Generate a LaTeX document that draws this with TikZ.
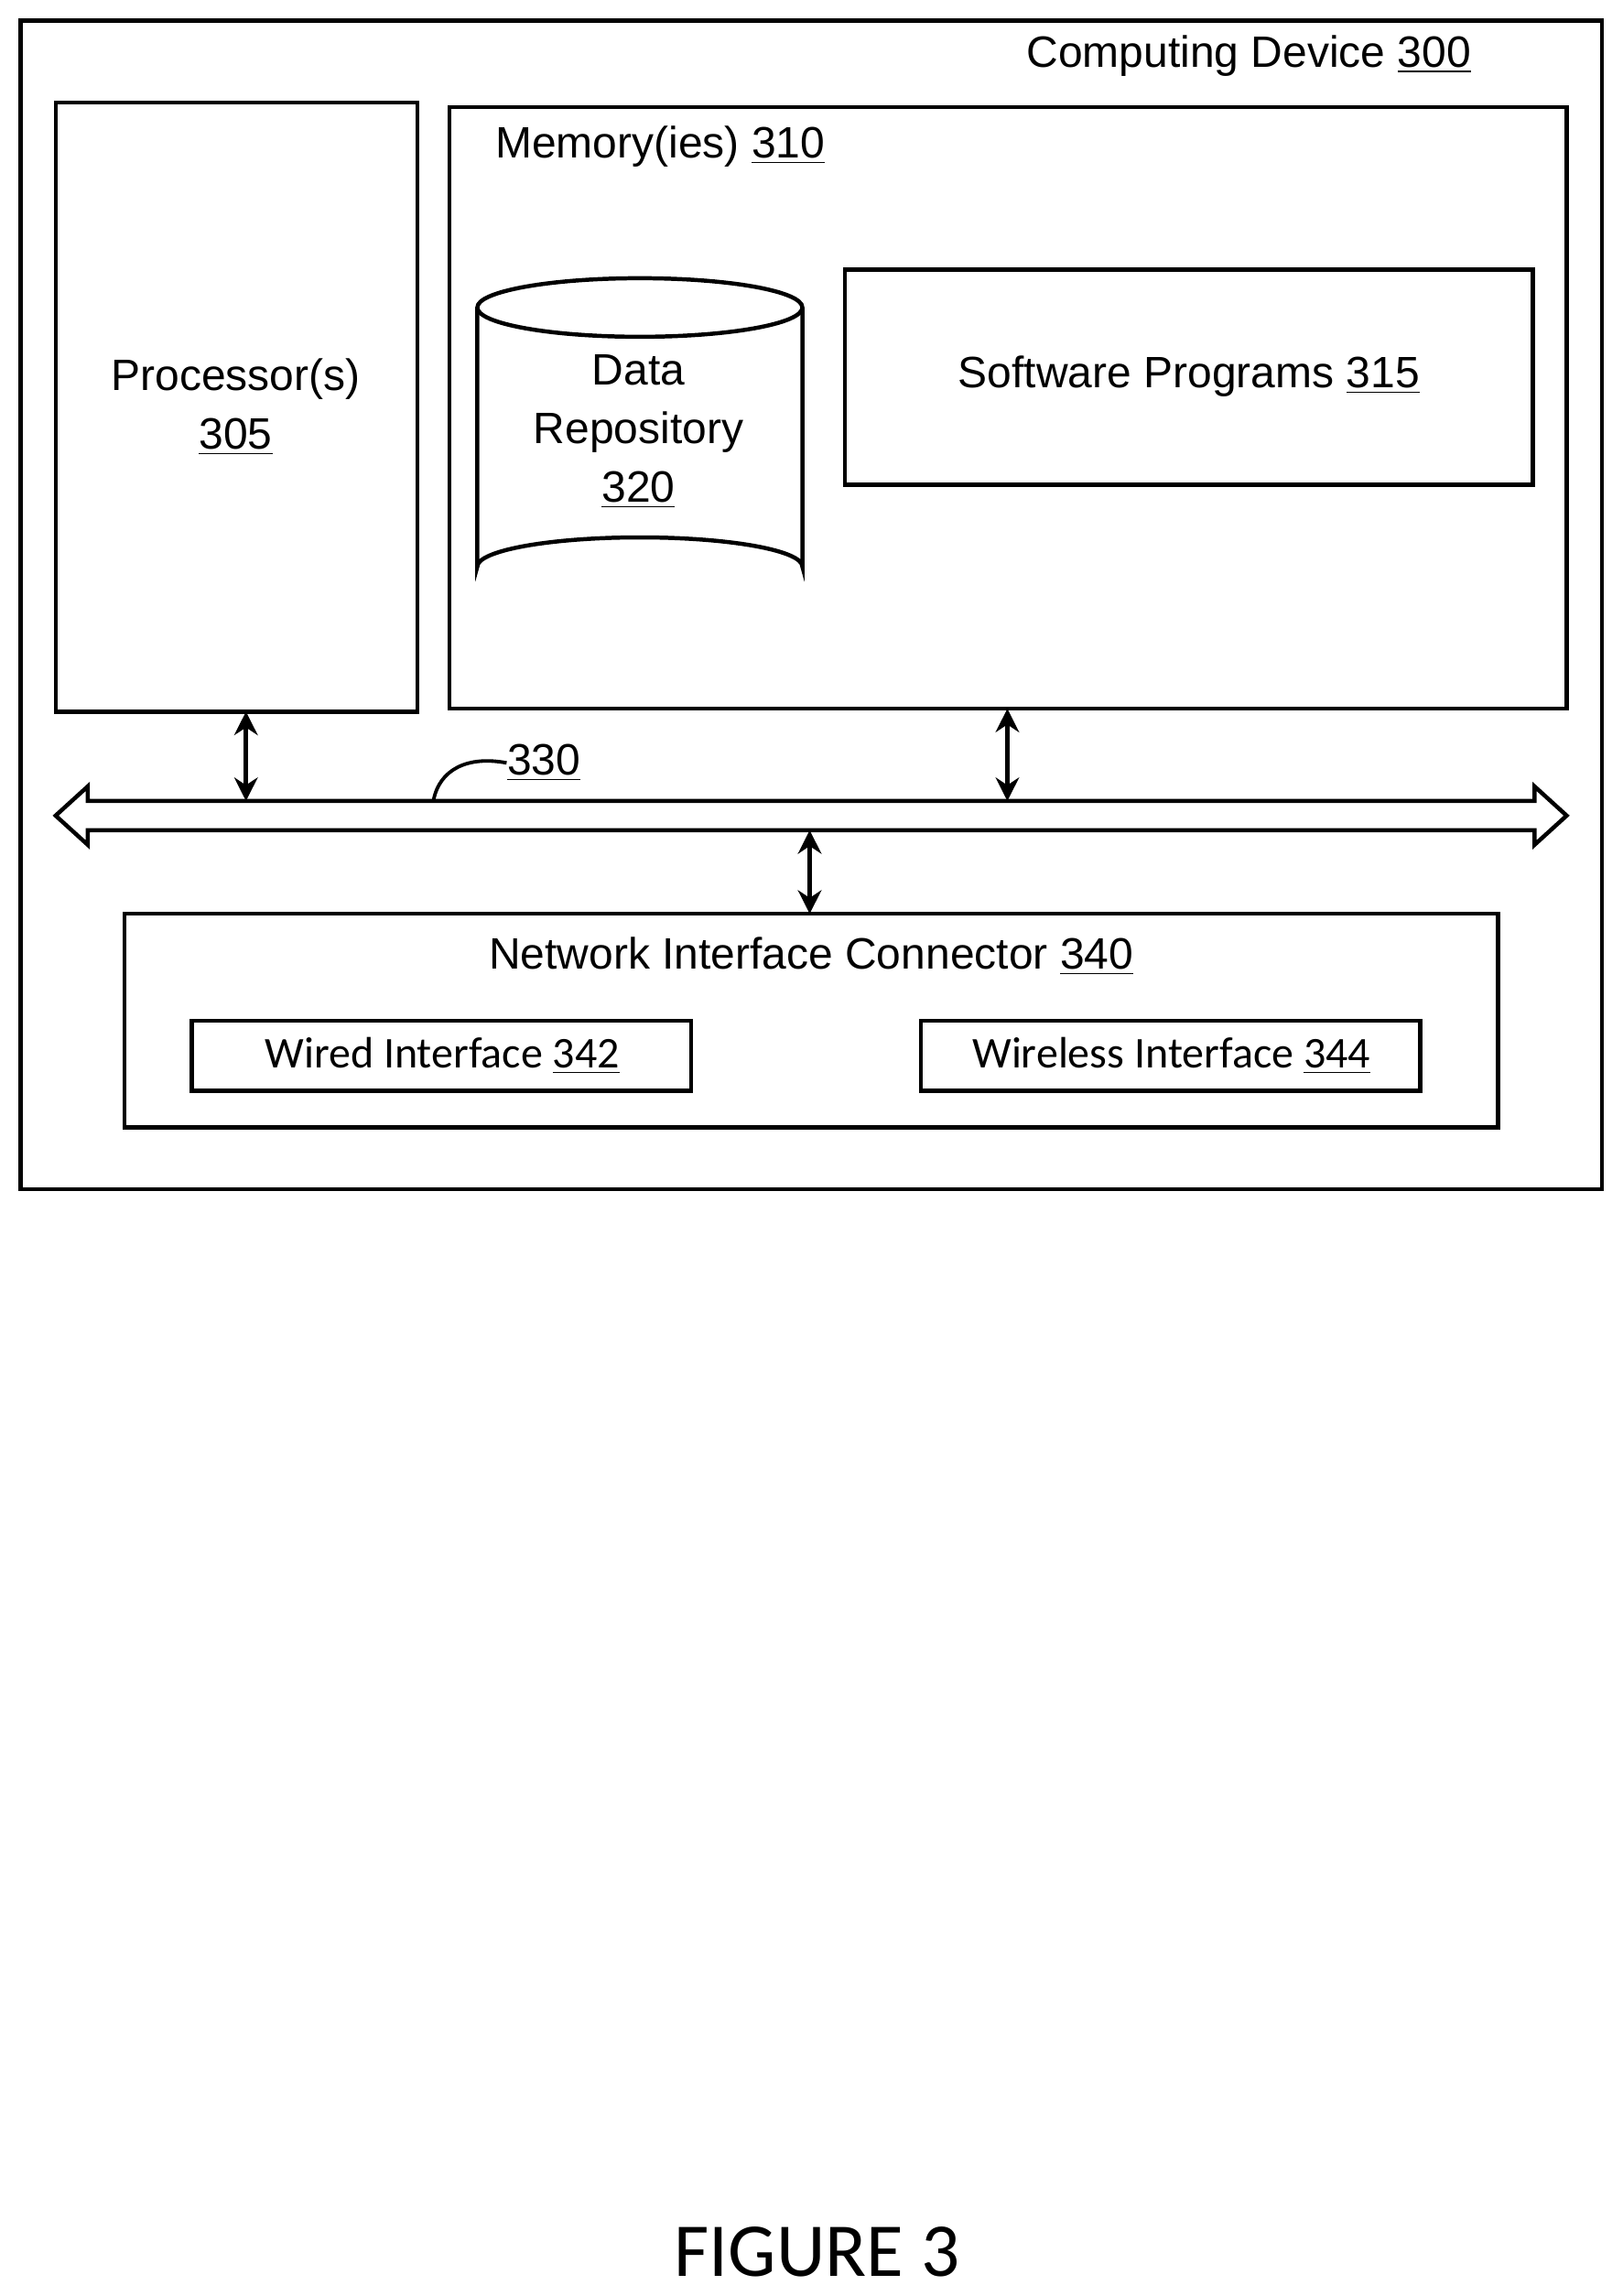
\documentclass[tikz,border=0pt]{standalone}
\usepackage{fontspec}
\setmainfont{Liberation Sans}
\newfontfamily\carl{Carlito}
\usetikzlibrary{shapes.geometric,arrows.meta}
\begin{document}
\begin{tikzpicture}[x=0.5pt,y=-0.5pt,
  box/.style={draw,line width=1.4pt},
  txt/.style={font=\fontsize{15}{18}\selectfont,inner sep=0pt},
  ctxt/.style={font=\carl\fontsize{15}{18}\selectfont,inner sep=0pt},
  dbl/.style={line width=1.6pt,<->,>={Stealth[length=8pt,width=8pt]}}]
\useasboundingbox (0,0) rectangle (1108,1568);
\draw[box] (14,14) rectangle (1094,812);
\node[txt,anchor=east] (cd) at (1005,38) {Computing Device \underline{300}};
\draw[box] (38,70) rectangle (285,486);
\node[txt,align=center] (pt) at (161,278) {Processor(s)\\[2pt]\underline{305}};
\draw[box] (307,73) rectangle (1070,484);
\node[txt,anchor=west] (mt) at (338,100) {Memory(ies) \underline{310}};
\coordinate (db) at (437,298);
\draw[line width=1.4pt] (326,210) -- (326,387) arc[start angle=180,end angle=360,x radius=111,y radius=20] -- (548,210);
\draw[line width=1.4pt] (437,210) ellipse [x radius=111,y radius=20];
\node[txt,align=center] (dbt) at (436,295) {Data\\[2pt]Repository\\[2pt]\underline{320}};
\node[box,minimum width=235pt,minimum height=73.5pt,inner sep=0pt] (sw) at (812,257.5) {};
\node[txt] (swt) at (812,257) {Software Programs \underline{315}};
\draw[line width=1.4pt,fill=white] (38,557)--(60,537)--(60,547)--(1048,547)--(1048,537)--(1070,557)--(1048,577)--(1048,567)--(60,567)--(60,577)--cycle;
\coordinate (bus1) at (168,547);
\coordinate (bus2) at (688,547);
\coordinate (bus3) at (553,567);
\coordinate (p1) at (168,486);
\coordinate (p2) at (688,484);
\coordinate (p3) at (553,624);
\draw[dbl] (p1) -- (bus1);
\draw[dbl] (p2) -- (bus2);
\draw[dbl] (bus3) -- (p3);
\node[txt,anchor=west] (l330) at (346,521) {\underline{330}};
\coordinate (lead) at (296,547);
\draw[line width=1.2pt] (lead) .. controls (300,525) and (320,516) .. (l330.west);
\node[box,minimum width=469pt,minimum height=73pt,inner sep=0pt] (nic) at (554,697) {};
\node[txt] (nict) at (554,653) {Network Interface Connector \underline{340}};
\node[box,minimum width=170.5pt,minimum height=24pt,inner sep=0pt] (wired) at (301.5,721) {};
\node[ctxt] (wt) at (302,721) {Wired Interface \underline{342}};
\node[box,minimum width=170.5pt,minimum height=24pt,inner sep=0pt] (wl) at (799.5,721) {};
\node[ctxt] (wlt) at (800,721) {Wireless Interface \underline{344}};
\node[font=\carl\fontsize{26}{30}\selectfont,inner sep=0pt] (fig) at (558,1538) {FIGURE 3};
\end{tikzpicture}
\end{document}
